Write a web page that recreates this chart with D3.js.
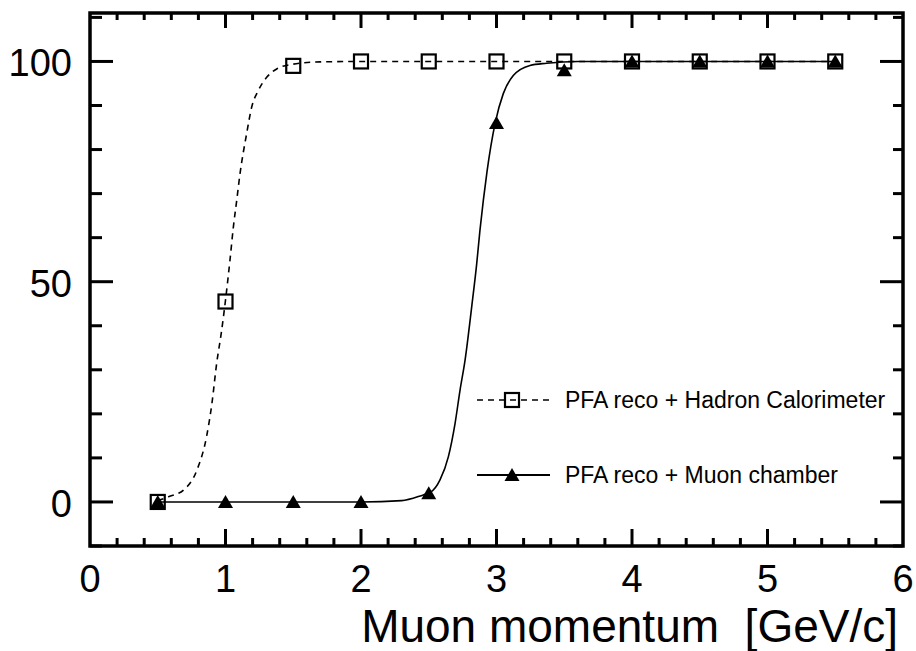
<!DOCTYPE html>
<html>
<head>
<meta charset="utf-8">
<script src="https://cdnjs.cloudflare.com/ajax/libs/d3/7.8.5/d3.min.js"></script>
<style>
  body { margin: 0; background: #fff; }
  svg { display: block; font-family: "Liberation Sans", Arial, Helvetica, sans-serif; }
</style>
</head>
<body>
<div id="chart"></div>
<script>
// measured points
var momentum = [0.5, 1, 1.5, 2, 2.5, 3, 3.5, 4, 4.5, 5, 5.5];
var hcalEff  = [0, 45.5, 99, 100, 100, 100, 100, 100, 100, 100, 100];
var muonEff  = [0, 0, 0, 0, 2, 86, 98, 100, 100, 100, 100];

// fit curves
var hcalFitX = [0.5, 0.58, 0.69, 0.79, 0.86, 0.9, 0.935, 0.97, 1.0, 1.033, 1.058, 1.083, 1.107, 1.156, 1.193, 1.242, 1.304, 1.378, 1.5, 1.7, 2.0, 5.5];
var hcalFitY = [0.3, 1.2, 2.7, 7.3, 14.8, 22.4, 31.5, 38.6, 45.8, 54.9, 62.4, 68.5, 74.5, 83.6, 89.6, 93.4, 96.4, 98.3, 99.4, 99.9, 100, 100];
var muonFitX = [0.5, 2.0, 2.3, 2.46, 2.51, 2.583, 2.645, 2.694, 2.731, 2.768, 2.817, 2.854, 2.878, 2.903, 2.93, 2.99, 3.05, 3.124, 3.247, 3.37, 3.6, 5.5];
var muonFitY = [0, 0, 0.3, 1.6, 2.1, 5.0, 10.3, 17.8, 25.4, 32.2, 44.3, 54.1, 61.7, 68.5, 75, 86, 92.7, 96.8, 99.1, 99.6, 100, 100];

var xTicks = [0, 1, 2, 3, 4, 5, 6];
var yTicks = [0, 50, 100];
var legendLabels = ["PFA reco + Hadron Calorimeter", "PFA reco + Muon chamber"];
var xTitle = "Muon momentum  [GeV/c]";

var width = 916, height = 651;
// frame edges (note: "top" is taken by window.top)
var fLeft = 90, fRight = 903, fTop = 13, fBottom = 546;

var svg = d3.select("#chart").append("svg")
    .attr("width", width)
    .attr("height", height);

var x = d3.scaleLinear().domain([0, 6]).range([fLeft, fRight]);
var y = d3.scaleLinear().domain([-10, 111]).range([fBottom, fTop]);

var line = d3.line()
    .x(function(d) { return x(d[0]); })
    .y(function(d) { return y(d[1]); })
    .curve(d3.curveMonotoneX);

// ---- ticks (ROOT style, on all four sides) ----
var ticks = svg.append("g").attr("stroke", "#000").attr("stroke-width", 3);
var xMinor = d3.range(1, 30).map(function(i) { return i * 0.2; });
var yMinor = d3.range(-1, 12).map(function(i) { return i * 10; });

xMinor.forEach(function(v) {
    var major = Math.abs(v - Math.round(v)) < 1e-6;
    ticks.append("line")
        .attr("x1", x(v)).attr("x2", x(v))
        .attr("y1", fBottom).attr("y2", fBottom - (major ? 17 : 8));
    ticks.append("line")
        .attr("x1", x(v)).attr("x2", x(v))
        .attr("y1", fTop).attr("y2", fTop + (major ? 15 : 7));
});
yMinor.forEach(function(v) {
    var major = v % 50 === 0;
    ticks.append("line")
        .attr("y1", y(v)).attr("y2", y(v))
        .attr("x1", fLeft).attr("x2", fLeft + (major ? 23 : 12));
    ticks.append("line")
        .attr("y1", y(v)).attr("y2", y(v))
        .attr("x1", fRight).attr("x2", fRight - (major ? 23 : 10));
});

// frame
svg.append("rect")
    .attr("x", fLeft).attr("y", fTop)
    .attr("width", fRight - fLeft).attr("height", fBottom - fTop)
    .attr("fill", "none")
    .attr("stroke", "#000")
    .attr("stroke-width", 3.5);

// tick labels
svg.append("g").selectAll("text")
    .data(xTicks)
  .enter().append("text")
    .attr("x", function(d) { return x(d); })
    .attr("y", fBottom + 46)
    .attr("text-anchor", "middle")
    .style("font-size", "38px")
    .text(function(d) { return d; });

svg.append("g").selectAll("text")
    .data(yTicks)
  .enter().append("text")
    .attr("x", 72)
    .attr("y", function(d) { return y(d) + 15; })
    .attr("text-anchor", "end")
    .style("font-size", "38px")
    .text(function(d) { return d; });

svg.append("text")
    .attr("x", 898)
    .attr("y", 642)
    .attr("text-anchor", "end")
    .style("font-size", "46px")
    .style("white-space", "pre")
    .text(xTitle);

// ---- curves ----
var hcalFit = d3.zip(hcalFitX, hcalFitY);
var muonFit = d3.zip(muonFitX, muonFitY);

svg.append("path")
    .datum(hcalFit)
    .attr("d", line)
    .attr("fill", "none")
    .attr("stroke", "#000")
    .attr("stroke-width", 1.6)
    .attr("stroke-dasharray", "6,5");

svg.append("path")
    .datum(muonFit)
    .attr("d", line)
    .attr("fill", "none")
    .attr("stroke", "#000")
    .attr("stroke-width", 1.6);

// ---- markers ----
var triPath = "M0,-7L7.5,6L-7.5,6Z";

svg.append("g").selectAll("rect")
    .data(d3.zip(momentum, hcalEff))
  .enter().append("rect")
    .attr("x", function(d) { return x(d[0]) - 7; })
    .attr("y", function(d) { return y(d[1]) - 7; })
    .attr("width", 14).attr("height", 14)
    .attr("fill", "none")
    .attr("stroke", "#000")
    .attr("stroke-width", 2.2);

svg.append("g").selectAll("path")
    .data(d3.zip(momentum, muonEff))
  .enter().append("path")
    .attr("d", triPath)
    .attr("transform", function(d) { return "translate(" + x(d[0]) + "," + y(d[1]) + ")"; })
    .attr("fill", "#000");

// ---- legend ----
var leg = svg.append("g");
var legY = [400, 475];

leg.append("line")
    .attr("x1", 477).attr("x2", 550)
    .attr("y1", legY[0]).attr("y2", legY[0])
    .attr("stroke", "#000").attr("stroke-width", 1.6)
    .attr("stroke-dasharray", "6,5");
leg.append("rect")
    .attr("x", 512 - 7).attr("y", legY[0] - 7)
    .attr("width", 14).attr("height", 14)
    .attr("fill", "none").attr("stroke", "#000").attr("stroke-width", 2.2);

leg.append("line")
    .attr("x1", 477).attr("x2", 550)
    .attr("y1", legY[1]).attr("y2", legY[1])
    .attr("stroke", "#000").attr("stroke-width", 2);
leg.append("path")
    .attr("d", triPath)
    .attr("transform", "translate(512," + legY[1] + ")")
    .attr("fill", "#000");

leg.selectAll("text")
    .data(legendLabels)
  .enter().append("text")
    .attr("x", 565)
    .attr("y", function(d, i) { return legY[i] + 8; })
    .style("font-size", "23px")
    .text(function(d) { return d; });
</script>
</body>
</html>
